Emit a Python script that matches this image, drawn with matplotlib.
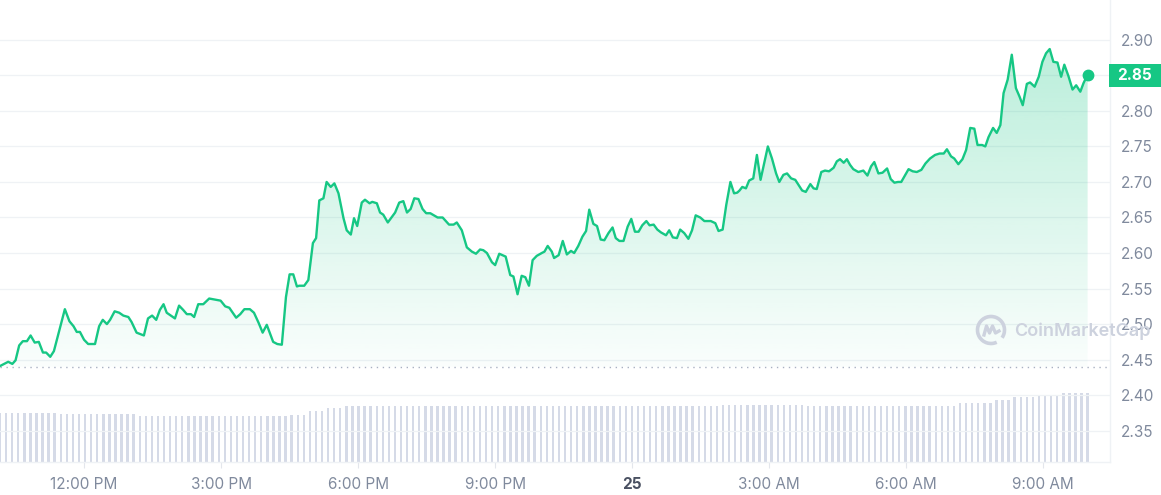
import numpy as np
import matplotlib
matplotlib.use("Agg")
import matplotlib.pyplot as plt
from matplotlib.patches import Rectangle, Arc
from matplotlib.lines import Line2D
from matplotlib.transforms import IdentityTransform
from matplotlib.colors import to_rgb

plt.rcParams['font.family'] = ['Inter', 'DejaVu Sans']

# price, hours after 12:00 PM on the 24th
hours = [
    -1.84, -1.66, -1.57, -1.50, -1.42, -1.34, -1.25, -1.17, -1.08, -0.99,
    -0.90, -0.83, -0.74, -0.66, -0.42, -0.32, -0.23, -0.16, -0.09, 0.00,
    0.09, 0.24, 0.33, 0.41, 0.50, 0.57, 0.67, 0.77, 0.86, 0.97,
    1.04, 1.15, 1.31, 1.40, 1.49, 1.58, 1.66, 1.74, 1.81, 1.99,
    2.08, 2.17,
    2.25, 2.34, 2.41, 2.50, 2.61, 2.74, 2.99, 3.09, 3.18, 3.33,
    3.42, 3.51, 3.63, 3.72, 3.82, 3.91, 4.00, 4.14, 4.23, 4.33,
    4.42, 4.50, 4.58, 4.66, 4.71, 4.82, 4.91, 5.01, 5.08, 5.15,
    5.24, 5.31, 5.40, 5.48, 5.57, 5.68, 5.75, 5.84, 5.91, 5.98,
    6.08, 6.15, 6.25,
    6.31, 6.41, 6.48, 6.55, 6.65, 6.81, 6.90, 6.99, 7.07, 7.15,
    7.23, 7.32, 7.41, 7.49, 7.58, 7.74, 7.85, 7.99, 8.09, 8.16,
    8.27, 8.38, 8.49, 8.58, 8.67, 8.74, 8.82, 8.93, 9.00, 9.09,
    9.23, 9.33, 9.40, 9.49, 9.58, 9.66, 9.74, 9.82, 9.91, 10.02,
    10.08, 10.15, 10.24, 10.29,
    10.39, 10.48, 10.57, 10.66, 10.73, 10.82, 10.91, 10.99, 11.06, 11.15,
    11.23, 11.31, 11.39, 11.48, 11.57, 11.64, 11.72, 11.81, 11.90, 11.98,
    12.06, 12.14, 12.22, 12.31, 12.38, 12.47, 12.55, 12.63, 12.74, 12.81,
    12.89, 12.98, 13.05, 13.14, 13.23, 13.31, 13.39, 13.49, 13.58, 13.72,
    13.82, 13.89, 13.98, 14.06, 14.15, 14.23, 14.30,
    14.35, 14.41, 14.49, 14.56, 14.65, 14.73, 14.81, 14.97, 15.06, 15.15,
    15.22, 15.31, 15.39, 15.48, 15.57, 15.64, 15.72, 15.80, 15.90, 15.97,
    16.04, 16.14, 16.22, 16.31, 16.41, 16.48, 16.55, 16.63, 16.70, 16.77,
    16.84, 16.95, 17.06, 17.15, 17.23, 17.30, 17.39, 17.48, 17.58, 17.66,
    17.74, 17.82, 17.89, 17.98, 18.05, 18.14, 18.23, 18.33,
    18.42, 18.52, 18.63, 18.73, 18.82, 18.89, 18.98, 19.05, 19.14, 19.23,
    19.31, 19.40, 19.49, 19.56, 19.66, 19.73, 19.80, 19.90, 19.98, 20.06,
    20.13, 20.22, 20.31, 20.40, 20.48, 20.55, 20.64, 20.71, 20.81, 20.90,
    20.98, 21.06, 21.14, 21.22, 21.31, 21.39, 21.46, 21.55, 21.64, 21.72,
    21.81, 21.88, 21.97,
]
price = [
    2.441, 2.447, 2.444, 2.449, 2.470, 2.476, 2.476, 2.484, 2.474, 2.475,
    2.460, 2.460, 2.454, 2.462, 2.521, 2.504, 2.497, 2.489, 2.489, 2.478,
    2.472, 2.472, 2.497, 2.506, 2.500, 2.506, 2.518, 2.516, 2.512, 2.510,
    2.503, 2.488, 2.484, 2.508, 2.512, 2.506, 2.520, 2.528, 2.516, 2.508,
    2.526, 2.520,
    2.514, 2.514, 2.510, 2.528, 2.528, 2.536, 2.533, 2.525, 2.523, 2.509,
    2.514, 2.521, 2.521, 2.516, 2.502, 2.488, 2.499, 2.475, 2.472, 2.471,
    2.538, 2.570, 2.570, 2.553, 2.554, 2.554, 2.562, 2.614, 2.621, 2.674,
    2.677, 2.700, 2.693, 2.698, 2.684, 2.649, 2.632, 2.626, 2.649, 2.638,
    2.671, 2.675, 2.670,
    2.672, 2.670, 2.657, 2.654, 2.643, 2.657, 2.671, 2.673, 2.657, 2.662,
    2.677, 2.676, 2.662, 2.656, 2.656, 2.650, 2.650, 2.640, 2.640, 2.643,
    2.632, 2.608, 2.602, 2.599, 2.605, 2.604, 2.600, 2.587, 2.583, 2.599,
    2.595, 2.569, 2.567, 2.542, 2.568, 2.566, 2.554, 2.590, 2.596, 2.600,
    2.602, 2.610, 2.602, 2.593,
    2.597, 2.617, 2.598, 2.603, 2.600, 2.610, 2.623, 2.631, 2.661, 2.641,
    2.638, 2.619, 2.618, 2.628, 2.636, 2.621, 2.617, 2.617, 2.637, 2.648,
    2.630, 2.630, 2.639, 2.645, 2.639, 2.640, 2.633, 2.629, 2.625, 2.632,
    2.622, 2.621, 2.633, 2.628, 2.620, 2.632, 2.653, 2.650, 2.645, 2.645,
    2.642, 2.631, 2.633, 2.668, 2.700, 2.684, 2.685,
    2.688, 2.693, 2.691, 2.702, 2.705, 2.738, 2.703, 2.750, 2.733, 2.712,
    2.700, 2.710, 2.712, 2.705, 2.703, 2.696, 2.688, 2.686, 2.697, 2.691,
    2.690, 2.714, 2.716, 2.715, 2.720, 2.729, 2.732, 2.727, 2.732, 2.724,
    2.718, 2.714, 2.716, 2.709, 2.722, 2.728, 2.712, 2.713, 2.719, 2.704,
    2.699, 2.700, 2.700, 2.710, 2.718, 2.715, 2.714, 2.717,
    2.726, 2.733, 2.738, 2.740, 2.740, 2.746, 2.736, 2.733, 2.725, 2.732,
    2.745, 2.776, 2.775, 2.752, 2.752, 2.750, 2.763, 2.776, 2.769, 2.780,
    2.825, 2.844, 2.879, 2.832, 2.820, 2.808, 2.838, 2.840, 2.834, 2.848,
    2.869, 2.881, 2.887, 2.869, 2.868, 2.848, 2.865, 2.849, 2.830, 2.836,
    2.827, 2.839, 2.851,
]
open_price = 2.439

# volume bars (relative heights), stored as (value, count) runs
volume_runs = [(49, 10), (48, 13), (46, 25), (47, 3), (51, 3), (54, 3),
               (56, 62), (57, 14), (56, 25), (59, 6), (62, 3), (65, 4),
               (67, 4), (69, 5)]

y_ticks = [2.35, 2.40, 2.45, 2.50, 2.55, 2.60, 2.65, 2.70, 2.75, 2.80, 2.85, 2.90]
x_ticks = [0, 3, 6, 9, 12, 15, 18, 21]
x_labels = ["12:00 PM", "3:00 PM", "6:00 PM", "9:00 PM", "25",
            "3:00 AM", "6:00 AM", "9:00 AM"]

green = "#16C784"
grey_text = "#808A9D"
grid_c = "#EFF2F5"

fig = plt.figure(figsize=(11.61, 4.95), dpi=100)
ax = fig.add_axes([0, 33 / 495, 1110 / 1161, 462 / 495])
axv = ax.twinx()

# volume
volume = np.repeat([v for v, n in volume_runs], [n for v, n in volume_runs])
bar_t = np.linspace(hours[0], hours[-1], len(volume))
step = bar_t[1] - bar_t[0]
axv.bar(bar_t, volume, width=step * 0.4, color="#D5DAE7", linewidth=0)
axv.set_ylim(0, 462)
axv.axis("off")

ax.set_zorder(axv.get_zorder() + 1)
ax.patch.set_visible(False)

# gradient fill under the price line
base = 2.44
poly = ax.fill_between(hours, price, base, facecolor="none", linewidth=0)
grad = np.zeros((256, 1, 4))
grad[..., :3] = to_rgb(green)
grad[..., 3] = np.linspace(0.02, 0.30, 256)[:, None]
im = ax.imshow(grad, extent=[hours[0], hours[-1], base, 2.90], aspect="auto",
               origin="lower", zorder=1, interpolation="bilinear")
im.set_clip_path(poly.get_paths()[0], transform=ax.transData)

ax.axhline(open_price, color="#A9B1C2", lw=1.0, ls=(0, (1, 3.3)), zorder=3)
ax.plot(hours, price, color=green, lw=1.7, solid_joinstyle="round", zorder=4)
ax.plot(hours[-1], price[-1], "o", ms=7.5, color=green, zorder=5)

ax.set_xlim(-1.84, 22.46)
ax.set_ylim(2.306, 2.956)

# the 2.85 level is shown by the price tag instead of a tick label
ax.set_yticks(y_ticks)
ax.set_yticklabels(["" if abs(v - 2.85) < 1e-9 else f"{v:.2f}" for v in y_ticks])
ax.yaxis.tick_right()
ax.tick_params(axis="y", length=0, pad=8, labelsize=11, labelcolor=grey_text)
ax.grid(axis="y", color=grid_c, lw=0.9)
ax.set_axisbelow(True)

ax.set_xticks(x_ticks)
ax.set_xticklabels(x_labels)
ax.tick_params(axis="x", length=4, color="#E3E6EC", pad=7, labelsize=11,
               labelcolor=grey_text)
for lab in ax.get_xticklabels():
    if lab.get_text() == "25":
        lab.set_fontweight("bold")
        lab.set_color("#4A5162")

for s in ["top", "left"]:
    ax.spines[s].set_visible(False)
for s in ["right", "bottom"]:
    ax.spines[s].set_color(grid_c)
    ax.spines[s].set_linewidth(1)

# last price tag
fig.add_artist(Rectangle((1109, 495 - 87), 52, 23, transform=IdentityTransform(),
                         facecolor=green, edgecolor="none", zorder=3))
fig.text(1134.5 / 1161, 1 - 75.5 / 495, f"{price[-1]:.2f}", color="white",
         fontsize=11, fontweight="bold", ha="center", va="center", zorder=4)

# watermark
wm = "#CDD2DE"
fig.add_artist(Arc((991, 495 - 330), 27, 27, theta1=-35, theta2=295,
                   transform=IdentityTransform(), color=wm, lw=2.6, zorder=3))
wx = np.array([-7, -4.5, -1.5, 1.5, 4.5, 8]) + 991
wy = 495 - 330 + np.array([-5, 4, -3, 4, -3, -1])
fig.add_artist(Line2D(wx, wy, transform=IdentityTransform(), color=wm, lw=2.4,
                      solid_joinstyle="round", zorder=3))
fig.text(1014 / 1161, 1 - 331 / 495, "CoinMarketCap", color=wm, fontsize=13,
         fontweight="semibold", ha="left", va="center", zorder=3)

fig.savefig("out.png", dpi=100)
